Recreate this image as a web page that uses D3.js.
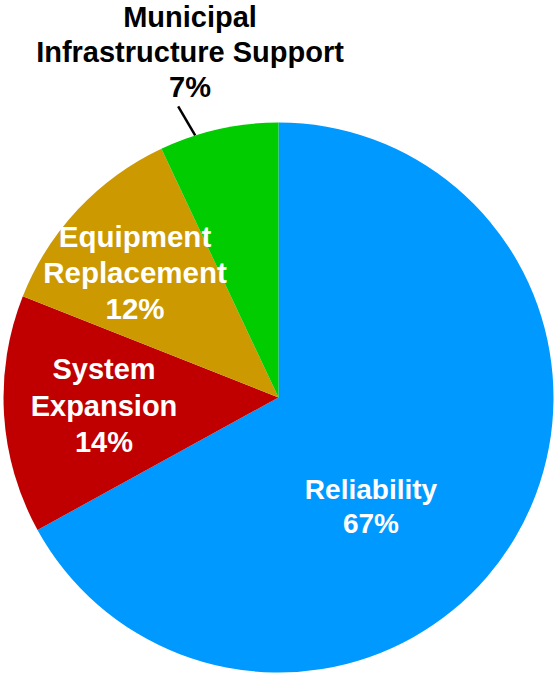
<!DOCTYPE html>
<html>
<head>
<meta charset="utf-8">
<script src="https://cdn.jsdelivr.net/npm/d3@7/dist/d3.min.js"></script>
<style>
html,body{margin:0;padding:0;background:#fff;}
svg{display:block;}
text{font-family:"Liberation Sans",Arial,Helvetica,sans-serif;font-weight:bold;}
</style>
</head>
<body>
<svg id="chart" width="556" height="674"></svg>
<script>
// Data
const categories = ["Reliability", "System Expansion", "Equipment Replacement", "Municipal Infrastructure Support"];
const values = [67, 14, 12, 7];
const colors = ["#0099FF", "#C00000", "#CC9900", "#00CC00"];
const labelLines = [
  ["Reliability", "67%"],
  ["System", "Expansion", "14%"],
  ["Equipment", "Replacement", "12%"],
  ["Municipal", "Infrastructure Support", "7%"]
];

const W = 556, H = 674;
const cx = 278.5, cy = 397.5, R = 275;
const svg = d3.select("#chart");
const g = svg.append("g").attr("transform", `translate(${cx},${cy})`);

const data = categories.map((c, i) => ({ name: c, value: values[i], color: colors[i], lines: labelLines[i] }));
const pie = d3.pie().value(d => d.value).sort(null);
const arc = d3.arc().innerRadius(0).outerRadius(R);
const arcs = pie(data);

g.selectAll("path.slice").data(arcs).enter().append("path")
  .attr("class", "slice")
  .attr("d", arc)
  .attr("fill", d => d.data.color);

// Label layout (first-line baseline position relative to centre, line spacing, fill)
const labelLayout = [
  { x: 92.5, y: 101.5, dy: 34, fill: "#fff", fs: 28 },
  { x: -174.5, y: -18.5, dy: 36.5, fill: "#fff", fs: 29 },
  { x: -143.5, y: -150.5, dy: 36, fill: "#fff", fs: 29.5 },
  { x: -88.5, y: -370.5, dy: 35, fill: "#000", fs: 29 }
];

arcs.forEach((a, i) => {
  const L = labelLayout[i];
  const t = g.append("text")
    .attr("text-anchor", "middle")
    .attr("font-size", L.fs)
    .attr("fill", L.fill);
  a.data.lines.forEach((ln, j) => {
    t.append("tspan").attr("x", L.x).attr("y", L.y + j * L.dy).text(ln);
  });
});

// Leader line for the small outside label
const green = arcs[3];
const ang = green.startAngle + (green.endAngle - green.startAngle) * 0.3;
const px = Math.sin(ang) * R, py = -Math.cos(ang) * R;
g.append("line")
  .attr("x1", px).attr("y1", py)
  .attr("x2", px - 17).attr("y2", py - 29)
  .attr("stroke", "#000").attr("stroke-width", 2.5);
</script>
</body>
</html>
